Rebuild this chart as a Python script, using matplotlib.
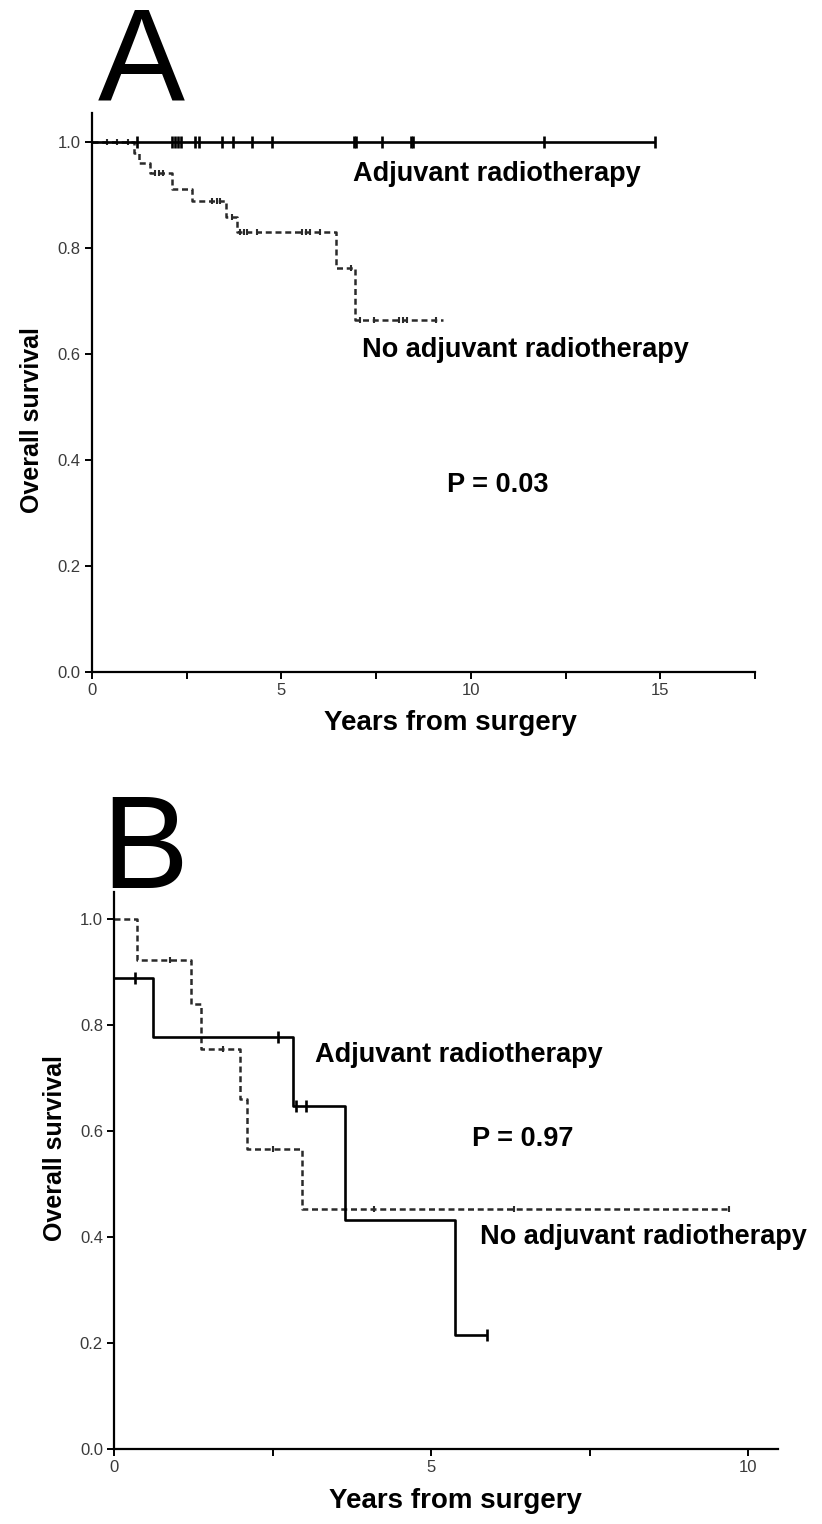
import numpy as np
import matplotlib
matplotlib.use("Agg")
import matplotlib.pyplot as plt
from matplotlib.ticker import MultipleLocator, FormatStrFormatter

plt.rcParams["font.family"] = ["Liberation Sans", "DejaVu Sans"]

# Panel A: Kaplan-Meier step data (years, survival)
a_no_times = [0, 1.10, 1.23, 1.54, 2.12, 2.63, 3.54, 3.84, 6.43, 6.94, 9.27]
a_no_surv = [1.0, 0.98, 0.96, 0.941, 0.911, 0.889, 0.859, 0.831, 0.762, 0.665, 0.665]
a_no_cens = [0.39, 0.65, 0.96, 1.66, 1.76, 1.87, 3.18, 3.29, 3.39, 3.69, 3.90, 4.0, 4.1,
             4.35, 5.55, 5.65, 5.75, 6.03, 6.84, 7.07, 7.45, 8.11, 8.21, 8.31, 9.07]
a_adj_times = [0, 14.87]
a_adj_surv = [1.0, 1.0]
a_adj_cens = [1.19, 2.12, 2.2, 2.28, 2.36, 2.71, 2.83, 3.42, 3.72, 4.23, 4.76, 6.91, 6.97,
              7.65, 8.43, 8.47, 11.93, 14.87]

# Panel B
b_adj_times = [0, 0.61, 2.82, 3.64, 5.38, 5.88]
b_adj_surv = [0.889, 0.778, 0.648, 0.432, 0.216, 0.216]
b_adj_cens = [0.33, 2.59, 2.87, 3.03, 5.88]
b_no_times = [0, 0.36, 1.21, 1.37, 1.99, 2.10, 2.97, 9.7]
b_no_surv = [1.0, 0.923, 0.839, 0.755, 0.661, 0.566, 0.453, 0.453]
b_no_cens = [0.88, 1.72, 2.5, 4.1, 6.3, 9.7]


def surv_at(times, surv, t):
    idx = np.searchsorted(np.asarray(times), np.asarray(t), side="right") - 1
    return np.asarray(surv)[idx]


def draw_km(ax, times, surv, cens, solid):
    if solid:
        ax.step(times, surv, where="post", color="black", lw=1.9, solid_capstyle="butt")
        ax.plot(cens, surv_at(times, surv, cens), ls="none", marker="|",
                ms=9, mew=1.9, color="black")
    else:
        ax.step(times, surv, where="post", color="#2a2a2a", lw=1.8,
                linestyle=(0, (2.4, 1.5)))
        ax.plot(cens, surv_at(times, surv, cens), ls="none", marker="|",
                ms=5, mew=1.5, color="#2a2a2a")


def style_axes(ax, xmax, ymax, xlab_pos, ylab_pos):
    ax.set_xlim(0, xmax)
    ax.set_ylim(0, ymax)
    for s in ["top", "right"]:
        ax.spines[s].set_visible(False)
    for s in ["left", "bottom"]:
        ax.spines[s].set_linewidth(1.6)
    ax.xaxis.set_major_locator(MultipleLocator(5))
    ax.xaxis.set_minor_locator(MultipleLocator(2.5))
    ax.yaxis.set_major_locator(MultipleLocator(0.2))
    ax.yaxis.set_major_formatter(FormatStrFormatter("%.1f"))
    ax.tick_params(axis="both", which="both", direction="out", length=5, width=1.4,
                   labelsize=12, labelcolor="#3a3a3a", pad=3)
    ax.set_xlabel("Years from surgery", fontsize=20, fontweight="bold")
    ax.set_ylabel("Overall survival", fontsize=18, fontweight="bold")
    ax.xaxis.set_label_coords(*xlab_pos)
    ax.yaxis.set_label_coords(*ylab_pos)


fig = plt.figure(figsize=(8.22, 15.24), dpi=100)

# Panel A
axA = fig.add_axes([0.1119, 0.5591, 0.8066, 0.3668])
style_axes(axA, 17.5, 1.055, (0.54, -0.068), (-0.073, 0.45))
draw_km(axA, a_no_times, a_no_surv, a_no_cens, solid=False)
draw_km(axA, a_adj_times, a_adj_surv, a_adj_cens, solid=True)
axA.text(10.7, 0.94, "Adjuvant radiotherapy", fontsize=19.5, fontweight="bold", ha="center", va="center")
axA.text(11.45, 0.607, "No adjuvant radiotherapy", fontsize=19.5, fontweight="bold", ha="center", va="center")
axA.text(10.7, 0.353, "P = 0.03", fontsize=19.5, fontweight="bold", ha="center", va="center")
fig.text(98 / 822, 1 - 100 / 1524, "A", fontsize=94, ha="left", va="baseline")

# Panel B
axB = fig.add_axes([0.1387, 0.0492, 0.8078, 0.3655])
style_axes(axB, 10.47, 1.051, (0.514, -0.07), (-0.071, 0.54))
draw_km(axB, b_no_times, b_no_surv, b_no_cens, solid=False)
draw_km(axB, b_adj_times, b_adj_surv, b_adj_cens, solid=True)
axB.text(3.17, 0.743, "Adjuvant radiotherapy", fontsize=19.5, fontweight="bold", ha="left", va="center")
axB.text(6.44, 0.585, "P = 0.97", fontsize=19.5, fontweight="bold", ha="center", va="center")
axB.text(5.77, 0.40, "No adjuvant radiotherapy", fontsize=19.5, fontweight="bold", ha="left", va="center",
         clip_on=False)
fig.text(101 / 822, 1 - 888 / 1524, "B", fontsize=94, ha="left", va="baseline")

fig.savefig("out.png", dpi=100)
